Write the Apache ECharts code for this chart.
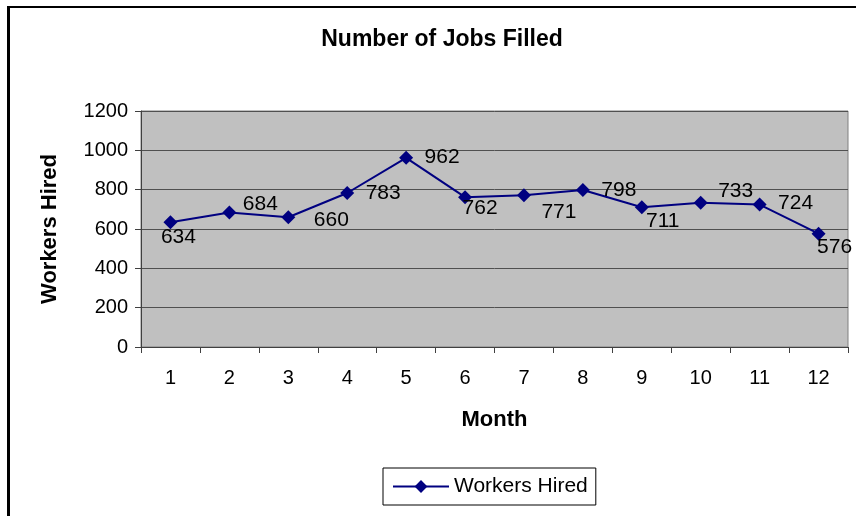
<!DOCTYPE html>
<html>
<head>
<meta charset="utf-8">
<script src="https://cdn.jsdelivr.net/npm/echarts@6/dist/echarts.min.js"></script>
<style>
html,body{margin:0;padding:0;background:#fff;}
#c{width:856px;height:516px;}
</style>
</head>
<body>
<div id="c"></div>
<script>
var months = ['1','2','3','4','5','6','7','8','9','10','11','12'];
var workersHired = [634, 684, 660, 783, 962, 762, 771, 798, 711, 733, 724, 576];
var yTicks = [0, 200, 400, 600, 800, 1000, 1200];

// label offsets (style only)
var labelOffsets = [[8,15],[31,-8],[43,3],[36,0],[36,-1],[15,11],[35,17],[36,0],[21,14],[35,-12],[36,-1],[16,13]];

var font = 'Liberation Sans, Arial, sans-serif';
var chart = echarts.init(document.getElementById('c'));
var seriesData = workersHired.map(function(v, i){
  return {value: v, label: {offset: labelOffsets[i]}};
});
chart.setOption({
  animation: false,
  backgroundColor: '#ffffff',
  title: {
    text: 'Number of Jobs Filled',
    left: 437, top: 23, textAlign: 'center',
    textStyle: {fontFamily: font, fontSize: 23, fontWeight: 'bold', color: '#000'}
  },
  grid: {
    left: 141, right: 8, top: 111, bottom: 169,
    show: true, backgroundColor: '#C0C0C0', borderColor: '#808080', borderWidth: 1
  },
  legend: {
    left: 383, top: 468,
    padding: [8, 8, 8, 9],
    borderColor: '#000', borderWidth: 1,
    itemWidth: 56, itemHeight: 16,
    itemGap: 6,
    textStyle: {fontFamily: font, fontSize: 21, color: '#000', padding: [0,0,0,0]},
    data: ['Workers Hired']
  },
  xAxis: {
    type: 'category',
    data: months,
    boundaryGap: true,
    name: 'Month',
    nameLocation: 'middle',
    nameGap: 62,
    nameTextStyle: {fontFamily: font, fontSize: 22, fontWeight: 'bold', color: '#000'},
    axisLine: {lineStyle: {color: '#404040', width: 1}},
    axisTick: {show: true, length: 6, lineStyle: {color: '#404040'}},
    axisLabel: {fontFamily: font, fontSize: 20, color: '#000', margin: 21},
    splitLine: {show: false}
  },
  yAxis: {
    type: 'value',
    min: 0, max: 1200, interval: 200,
    name: 'Workers Hired',
    nameLocation: 'middle',
    nameGap: 80,
    nameRotate: 90,
    nameTextStyle: {fontFamily: font, fontSize: 22, fontWeight: 'bold', color: '#000'},
    axisLine: {show: true, lineStyle: {color: '#404040', width: 1}},
    axisTick: {show: true, length: 6, lineStyle: {color: '#404040'}},
    axisLabel: {fontFamily: font, fontSize: 20, color: '#000', margin: 13,
      formatter: function(v){ return yTicks.indexOf(v) >= 0 ? String(v) : ''; }},
    splitLine: {show: true, lineStyle: {color: '#505050', width: 1}}
  },
  series: [{
    name: 'Workers Hired',
    type: 'line',
    data: seriesData,
    symbol: 'diamond',
    symbolSize: 14,
    color: '#000080',
    lineStyle: {color: '#000080', width: 2},
    itemStyle: {color: '#000080'},
    label: {
      show: true, position: 'inside',
      fontFamily: font, fontSize: 21, color: '#000'
    }
  }],
  graphic: [
    {type: 'line', shape: {x1: 8.5, y1: 6, x2: 8.5, y2: 516}, style: {stroke: '#000', lineWidth: 3}},
    {type: 'line', shape: {x1: 7, y1: 7, x2: 856, y2: 7}, style: {stroke: '#000', lineWidth: 2}}
  ]
});
</script>
</body>
</html>
